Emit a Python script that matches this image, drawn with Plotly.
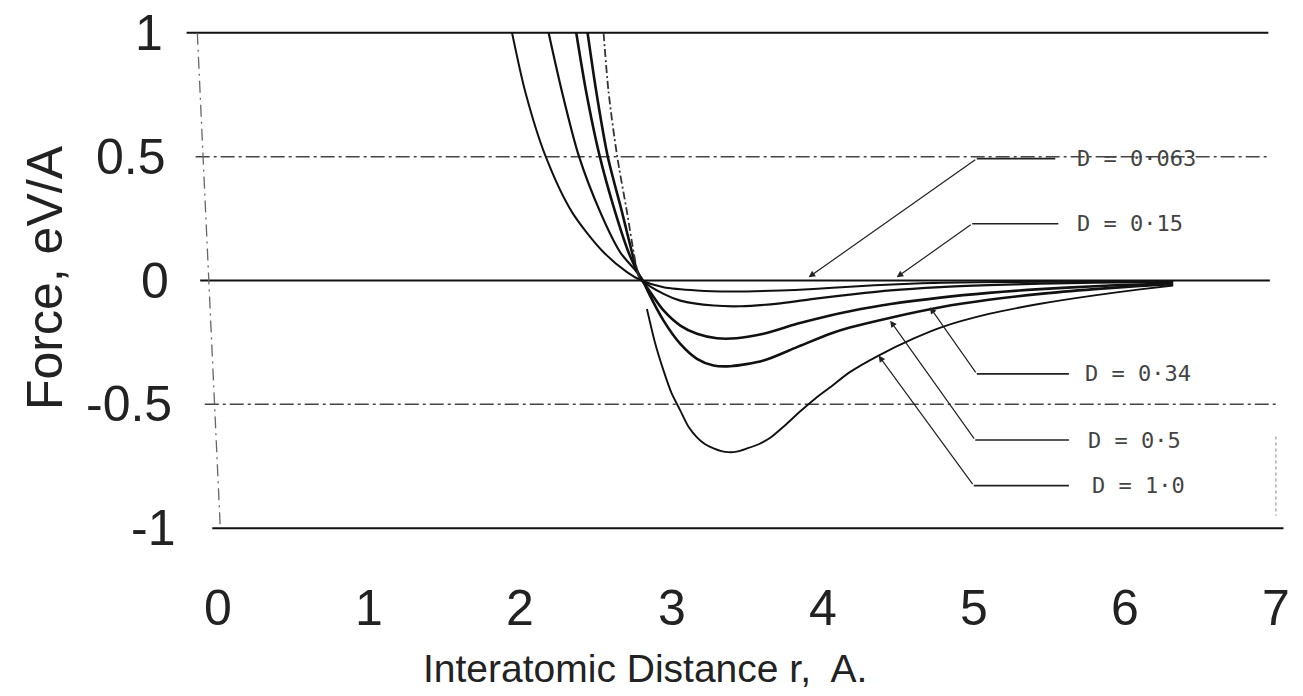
import plotly.graph_objects as go

# ---------------- data ----------------
x_tick_vals = [0, 1, 2, 3, 4, 5, 6, 7]
x_tick_text = ["0", "1", "2", "3", "4", "5", "6", "7"]
y_tick_vals = [1, 0.5, 0, -0.5, -1]
y_tick_text = ["1", "0.5", "0", "-0.5", "-1"]

r_d0063 = [1.944, 2.032, 2.164, 2.341, 2.55, 2.705, 2.80, 2.947, 3.168, 3.388, 3.72, 3.94, 4.18, 4.5, 4.8, 5.2, 5.8, 6.32]
f_d0063 = [1.0, 0.761, 0.505, 0.276, 0.114, 0.034, 0.0, -0.027, -0.040, -0.044, -0.040, -0.034, -0.025, -0.015, -0.009, -0.006, -0.004, -0.003]

r_d015 = [2.186, 2.275, 2.385, 2.528, 2.66, 2.77, 2.805, 2.947, 3.058, 3.278, 3.455, 3.72, 3.94, 4.18, 4.45, 4.78, 5.1, 5.44, 5.8, 6.32]
f_d015 = [1.0, 0.761, 0.505, 0.276, 0.114, 0.034, 0.0, -0.054, -0.081, -0.101, -0.104, -0.092, -0.074, -0.057, -0.040, -0.027, -0.019, -0.013, -0.009, -0.006]

r_d034 = [2.369, 2.435, 2.523, 2.627, 2.715, 2.775, 2.805, 2.84, 2.947, 3.058, 3.168, 3.30, 3.43, 3.609, 3.83, 4.05, 4.18, 4.45, 4.78, 5.1, 5.44, 5.8, 6.1, 6.32]
f_d034 = [1.0, 0.761, 0.505, 0.276, 0.114, 0.034, 0.0, -0.03, -0.121, -0.182, -0.215, -0.233, -0.233, -0.215, -0.175, -0.141, -0.124, -0.095, -0.069, -0.050, -0.035, -0.023, -0.016, -0.012]

r_d05 = [2.444, 2.502, 2.576, 2.672, 2.738, 2.775, 2.81, 2.84, 2.947, 3.058, 3.168, 3.278, 3.388, 3.609, 3.83, 4.05, 4.18, 4.45, 4.78, 5.1, 5.44, 5.8, 6.1, 6.32]
f_d05 = [1.0, 0.761, 0.505, 0.276, 0.114, 0.034, 0.0, -0.04, -0.162, -0.256, -0.316, -0.343, -0.346, -0.323, -0.269, -0.215, -0.19, -0.15, -0.108, -0.078, -0.054, -0.035, -0.022, -0.015]

r_d10_rep = [2.550, 2.583, 2.639, 2.705, 2.749, 2.775, 2.79]
f_d10_rep = [1.0, 0.761, 0.505, 0.276, 0.114, 0.034, 0.0]
r_d10_att = [2.837, 2.89, 2.947, 3.0, 3.058, 3.11, 3.168, 3.22, 3.278, 3.33, 3.377, 3.43, 3.499, 3.58, 3.653, 3.75, 3.852, 3.95, 4.05, 4.18, 4.37, 4.6, 4.78, 5.1, 5.44, 5.8, 6.1, 6.32]
f_d10_att = [-0.115, -0.25, -0.364, -0.455, -0.525, -0.588, -0.633, -0.660, -0.678, -0.689, -0.693, -0.691, -0.678, -0.66, -0.635, -0.585, -0.528, -0.477, -0.431, -0.37, -0.303, -0.235, -0.19, -0.135, -0.094, -0.06, -0.036, -0.02]

labels = ["D = 0·063", "D = 0·15", "D = 0·34", "D = 0·5", "D = 1·0"]
# arrow tip (x, y) and leader elbow (x, y) for each label
tip_x = [3.907, 4.49, 4.71, 4.447, 4.37]
tip_y = [0.013, 0.013, -0.108, -0.162, -0.303]
elbow_x = [5.02, 4.99, 5.02, 5.01, 5.0]
elbow_y = [0.492, 0.229, -0.377, -0.644, -0.828]
leader_end_x = [5.54, 5.56, 5.63, 5.63, 5.63]
text_x = [5.67, 5.67, 5.72, 5.74, 5.77]

# ---------------- figure ----------------
W, H = 1303, 696
ML, MR, MT, MB = 173, 12, 8, 143
PW, PH = W - ML - MR, H - MT - MB
XR = [-0.3, 7.1]
YR = [-1.1, 1.1]

def px_to_paper_x(px):
    return (px - ML) / PW

def py_to_paper_y(py):
    return (H - MB - py) / PH

fig = go.Figure()

LINE_COL = "#111111"
curves = [
    (r_d0063, f_d0063, 2.0),
    (r_d015, f_d015, 2.2),
    (r_d034, f_d034, 2.6),
    (r_d05, f_d05, 2.6),
]
for xs, ys, w in curves:
    fig.add_trace(go.Scatter(x=xs, y=ys, mode="lines",
                             line=dict(color=LINE_COL, width=w, shape="spline", smoothing=0.8),
                             showlegend=False, hoverinfo="skip"))
fig.add_trace(go.Scatter(x=r_d10_rep, y=f_d10_rep, mode="lines",
                         line=dict(color="#333333", width=1.8, dash="8px,3px,2px,3px", shape="spline", smoothing=0.8),
                         showlegend=False, hoverinfo="skip"))
fig.add_trace(go.Scatter(x=r_d10_att, y=f_d10_att, mode="lines",
                         line=dict(color=LINE_COL, width=1.9, shape="spline", smoothing=0.7),
                         showlegend=False, hoverinfo="skip"))

shapes = []
# horizontal reference lines (solid at integers, dash-dot at halves)
h_extent = {1: (-0.21, 6.95), 0.5: (-0.15, 6.96), 0: (-0.12, 6.96), -0.5: (-0.09, 7.02), -1: (-0.04, 7.05)}
for yv in y_tick_vals:
    x0, x1 = h_extent[yv]
    if yv in (1, 0, -1):
        ln = dict(color="#111111", width=2.2)
    else:
        ln = dict(color="#444444", width=1.5, dash="14px,4px,3px,4px")
    shapes.append(dict(type="line", xref="x", yref="y", x0=x0, x1=x1, y0=yv, y1=yv, line=ln, layer="below"))
# left (slightly tilted) dash-dot axis
shapes.append(dict(type="line", xref="x", yref="y", x0=-0.139, y0=1.0, x1=0.013, y1=-1.0,
                   line=dict(color="#666666", width=1.3, dash="12px,5px,2px,5px"), layer="below"))
# faint dotted fragment on right
shapes.append(dict(type="line", xref="x", yref="y", x0=7.0, y0=-0.63, x1=7.0, y1=-0.95,
                   line=dict(color="#999999", width=1.2, dash="dot"), layer="below"))
# leader horizontal segments
for i in range(len(labels)):
    shapes.append(dict(type="line", xref="x", yref="y", x0=elbow_x[i], x1=leader_end_x[i],
                       y0=elbow_y[i], y1=elbow_y[i], line=dict(color="#222222", width=1.6)))

annotations = []
# arrows (diagonal leaders)
for i in range(len(labels)):
    annotations.append(dict(x=tip_x[i], y=tip_y[i], xref="x", yref="y",
                            ax=elbow_x[i], ay=elbow_y[i], axref="x", ayref="y",
                            text="", showarrow=True, arrowhead=2, arrowsize=1.1,
                            arrowwidth=1.2, arrowcolor="#222222", standoff=0))
    annotations.append(dict(x=text_x[i], y=elbow_y[i], xref="x", yref="y",
                            text=labels[i], showarrow=False, xanchor="left", yanchor="middle",
                            font=dict(family="DejaVu Sans Mono", size=22, color="#444444")))

FONT_FAM = "Liberation Sans Narrow, Arial Narrow, Liberation Sans, Arial"
TICK_FONT = dict(family=FONT_FAM, size=50, color="#222222")
# y tick labels (follow slight tilt of the scanned axis)
for v, t in zip(y_tick_vals, y_tick_text):
    right_px = 171 - 6 * v
    annotations.append(dict(x=px_to_paper_x(right_px), y=v, xref="paper", yref="y",
                            text=t, showarrow=False, xanchor="right", yanchor="middle",
                            font=TICK_FONT))
# x tick labels
for v, t in zip(x_tick_vals, x_tick_text):
    annotations.append(dict(x=v, y=py_to_paper_y(608), xref="x", yref="paper",
                            text=t, showarrow=False, xanchor="center", yanchor="middle",
                            font=TICK_FONT))
# axis titles
annotations.append(dict(x=px_to_paper_x(645), y=py_to_paper_y(668), xref="paper", yref="paper",
                        text="Interatomic Distance r,  A.", showarrow=False,
                        xanchor="center", yanchor="middle",
                        font=dict(family=FONT_FAM, size=39, color="#222222")))
annotations.append(dict(x=px_to_paper_x(45), y=py_to_paper_y(278), xref="paper", yref="paper",
                        text="Force, eV/A", showarrow=False, textangle=-90,
                        xanchor="center", yanchor="middle",
                        font=dict(family=FONT_FAM, size=50, color="#222222")))

fig.update_layout(
    width=W, height=H,
    margin=dict(l=ML, r=MR, t=MT, b=MB, pad=0),
    paper_bgcolor="white", plot_bgcolor="white",
    xaxis=dict(range=XR, showgrid=False, zeroline=False, showticklabels=False, ticks="", showline=False),
    yaxis=dict(range=YR, showgrid=False, zeroline=False, showticklabels=False, ticks="", showline=False),
    shapes=shapes, annotations=annotations, showlegend=False,
)

fig.write_html("out.html")
